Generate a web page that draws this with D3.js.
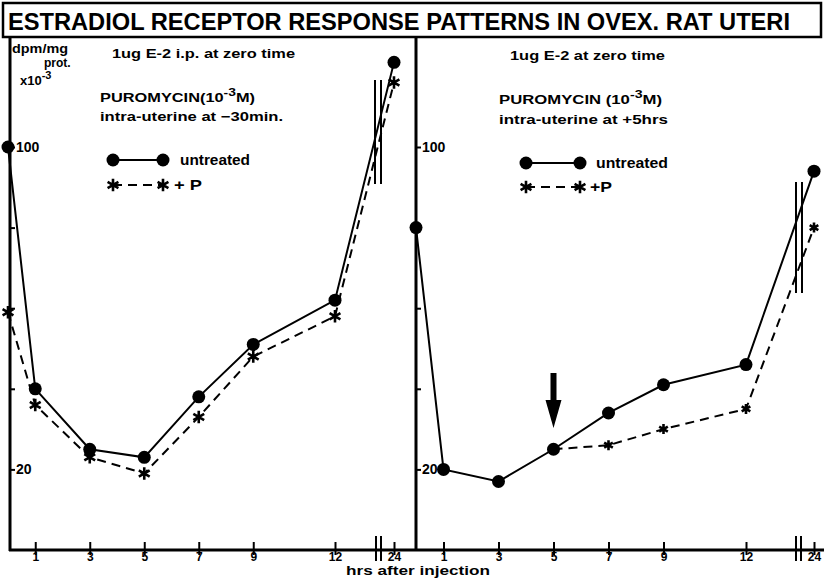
<!DOCTYPE html>
<html><head><meta charset="utf-8">
<script src="https://cdn.jsdelivr.net/npm/d3@7"></script>
<style>
html,body{margin:0;padding:0;background:#fff;}
svg{display:block;}
text{font-family:"Liberation Sans",Arial,sans-serif;font-weight:bold;fill:#000;}
</style></head>
<body>
<svg id="c" width="824" height="578"></svg>
<script>
// ---------- data ----------
const title = "ESTRADIOL RECEPTOR RESPONSE PATTERNS IN OVEX. RAT UTERI";
const hours = [0, 1, 3, 5, 7, 9, 12, 24];
const leftUntreated = [100, 40, 25, 23, 38, 51, 62, 121];
const leftPuromycin = [59, 36, 23, 19, 33, 48, 58, 116];
const rightUntreated = [80, 20, 17, 25, 34, 41, 46, 94];
const rightPHours = [5, 7, 9, 12, 24];
const rightPuromycin = [25, 26, 30, 35, 80];
const tickHours = [1, 3, 5, 7, 9, 12, 24];
const yTicks = [20, 40, 60, 80, 100];
const yLabels = {20: "20", 100: "100"};

const svg = d3.select("#c");
const y = d3.scaleLinear().domain([0, 100]).range([550, 147]);
const xL = d3.scaleLinear().domain([0, 12, 24]).range([8, 335, 394]);
const xR = d3.scaleLinear().domain([0, 12, 24]).range([416, 746, 814]);

// ---------- frame ----------
svg.append("rect").attr("x", 3).attr("y", 3).attr("width", 818).attr("height", 34)
  .attr("fill", "none").attr("stroke", "#000").attr("stroke-width", 2.5);
svg.append("text").attr("x", 8).attr("y", 30).attr("font-size", 24)
  .attr("textLength", 782).attr("lengthAdjust", "spacingAndGlyphs").text(title);

// ---------- axes ----------
function xAxis(x, x0, x1, breakX) {
  const g = svg.append("g").attr("transform", "translate(0,550)");
  g.call(d3.axisBottom(x).tickValues(tickHours).tickSize(7).tickSizeOuter(0).tickFormat(d3.format("d")));
  g.select(".domain").remove();
  g.selectAll(".tick line").attr("y1", -8).attr("y2", 5).attr("stroke-width", 2);
  g.selectAll(".tick text").attr("y", 2).attr("dy", "0.71em").attr("font-size", 12)
    .attr("font-family", "Liberation Sans, Arial, sans-serif").attr("font-weight", "bold");
  svg.append("line").attr("x1", x0).attr("x2", x1).attr("y1", 550).attr("y2", 550)
    .attr("stroke", "#000").attr("stroke-width", 3);
  [breakX, breakX + 5].forEach(bx => svg.append("line").attr("x1", bx).attr("x2", bx)
    .attr("y1", 536).attr("y2", 561).attr("stroke", "#000").attr("stroke-width", 2));
}
xAxis(xL, 9, 416, 376);
xAxis(xR, 416, 824, 796);

function yAxis(xpos) {
  const g = svg.append("g").attr("transform", `translate(${xpos},0)`);
  g.call(d3.axisRight(y).tickValues(yTicks).tickSize(5).tickFormat(d => yLabels[d] || ""));
  g.select(".domain").remove();
  g.selectAll(".tick line").attr("stroke-width", 2);
  g.selectAll(".tick text").attr("x", 6).attr("font-size", 14)
    .attr("font-family", "Liberation Sans, Arial, sans-serif").attr("font-weight", "bold");
  svg.append("line").attr("x1", xpos).attr("x2", xpos).attr("y1", 37).attr("y2", 551)
    .attr("stroke", "#000").attr("stroke-width", 3);
}
yAxis(10);
yAxis(416);

// axis-break double lines on the data
function dataBreak(bx, y0, y1) {
  [bx, bx + 6].forEach(b => svg.append("line").attr("x1", b).attr("x2", b)
    .attr("y1", y0).attr("y2", y1).attr("stroke", "#000").attr("stroke-width", 2));
}
dataBreak(375, 80, 184);
dataBreak(796, 182, 293);

// ---------- series ----------
const asterisk = d3.symbol().type(d3.symbolAsterisk).size(110);
function series(x, hs, vals, dashed, marker, msize) {
  const pts = hs.map((h, i) => [x(h), y(vals[i])]);
  svg.append("path").attr("d", d3.line()(pts)).attr("fill", "none").attr("stroke", "#000")
    .attr("stroke-width", 2).attr("stroke-dasharray", dashed ? "9,6" : null);
  pts.forEach(p => {
    if (marker === "circle") {
      svg.append("circle").attr("cx", p[0]).attr("cy", p[1]).attr("r", 6.5).attr("fill", "#000");
    } else {
      svg.append("path").attr("d", d3.symbol().type(d3.symbolAsterisk).size(msize)())
        .attr("transform", `translate(${p[0]},${p[1]})`).attr("fill", "none")
        .attr("stroke", "#000").attr("stroke-width", 2.6);
    }
  });
}
series(xL, hours, leftPuromycin, true, "star", 110);
series(xL, hours, leftUntreated, false, "circle");
series(xR, rightPHours, rightPuromycin, true, "star", 70);
series(xR, hours, rightUntreated, false, "circle");

// ---------- arrow ----------
const ax = xR(5);
svg.append("rect").attr("x", ax - 3).attr("y", 373).attr("width", 6).attr("height", 30).attr("fill", "#000");
svg.append("path").attr("d", `M${ax - 8},400 L${ax + 8},400 L${ax},428 Z`).attr("fill", "#000");

// ---------- annotations ----------
function txt(x, yy, s, size, len) {
  const t = svg.append("text").attr("x", x).attr("y", yy).attr("font-size", size || 12).text(s);
  if (len) t.attr("textLength", len).attr("lengthAdjust", "spacingAndGlyphs");
  return t;
}
function sup(x, yy, pre, exp, post, size, len) {
  const t = txt(x, yy, pre, size, len);
  t.append("tspan").attr("dy", -6).attr("font-size", size - 2).text(exp);
  if (post) t.append("tspan").attr("dy", 6).text(post);
  return t;
}
txt(12, 53, "dpm/mg", 12, 56);
txt(44, 67, "prot.", 12);
sup(20, 85, "x10", "-3", null, 13);

txt(112, 58, "1ug E-2 i.p. at  zero  time", 13, 183);
sup(100, 102, "PUROMYCIN(10", "-3", "M)", 13, 155);
txt(100, 121, "intra-uterine  at  \u221230min.", 13, 183);

txt(510, 60, "1ug E-2  at zero  time", 13, 155);
sup(499, 104, "PUROMYCIN (10", "-3", "M)", 13, 163);
txt(499, 124, "intra-uterine at  +5hrs", 13, 169);

// legends
function legend(xa, xb, yc, ys, tx, labelP, wU, wP) {
  svg.append("line").attr("x1", xa).attr("x2", xb).attr("y1", yc).attr("y2", yc)
    .attr("stroke", "#000").attr("stroke-width", 2);
  [xa, xb].forEach(cx => svg.append("circle").attr("cx", cx).attr("cy", yc).attr("r", 6.5).attr("fill", "#000"));
  txt(tx, yc + 5, "untreated", 14, wU);
  svg.append("line").attr("x1", xa).attr("x2", xb).attr("y1", ys).attr("y2", ys)
    .attr("stroke", "#000").attr("stroke-width", 2).attr("stroke-dasharray", "9,6");
  [xa, xb].forEach(cx => svg.append("path").attr("d", asterisk())
    .attr("transform", `translate(${cx},${ys})`).attr("fill", "none").attr("stroke", "#000").attr("stroke-width", 2.6));
  txt(tx - 6, ys + 5, labelP, 14, wP);
}
legend(113, 163, 160, 185, 180, "+ P", 70, 28);
legend(526, 580, 163, 187, 596, "+P", 72, 22);

txt(346, 575, "hrs after  injection", 13, 144);
</script>
</body></html>
